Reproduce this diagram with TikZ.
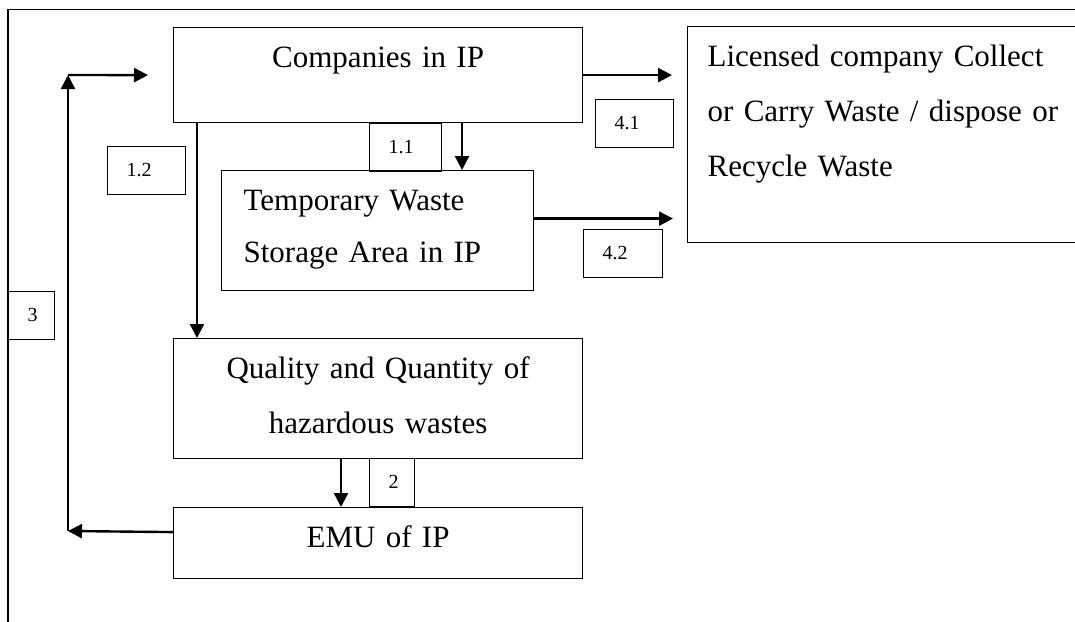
\documentclass[tikz,border=0pt]{standalone}
\usepackage{fontspec}
\setmainfont{Liberation Serif}
\usetikzlibrary{arrows.meta}

\begin{document}
\begin{tikzpicture}[x=1pt,y=-1pt,
    box/.style={draw, line width=1.2pt, anchor=north west, inner ysep=0pt,
        text height=40pt, font=\fontsize{31}{55}\selectfont},
    tag/.style={draw, line width=1.2pt, anchor=north west, inner xsep=19pt,
        inner ysep=0pt, text height=30pt, text depth=17.5pt, align=left,
        font=\fontsize{20}{24}\selectfont},
    arr/.style={line width=2.4pt, -{Triangle[length=14pt,width=14pt]}}
]

\useasboundingbox (0,0) rectangle (1075,621);
\clip (0,0) rectangle (1075,621);

% Outer frame
\draw[line width=1.2pt] (8,9.5) rectangle (1100,650);

% Boxes
\node[box, inner xsep=0pt, text width=409pt, align=center, text depth=55pt]
    (comp) at (173,27) {Companies in IP};
\node[box, inner xsep=22pt, text width=268pt, align=left, text depth=80pt,
    font=\fontsize{31}{52}\selectfont]
    (temp) at (221,170) {Temporary Waste\\Storage Area in IP};
\node[box, inner xsep=0pt, text width=409pt, align=center, text depth=80pt]
    (qual) at (173,338) {Quality and Quantity of\\hazardous wastes};
\node[box, inner xsep=0pt, text width=409pt, align=center, text depth=31pt]
    (emu) at (173,507) {EMU of IP};
\node[box, inner xsep=20pt, text width=380pt, align=left, text depth=176pt]
    (lic) at (687,26) {Licensed company Collect\\or Carry Waste / dispose or\\Recycle Waste};

% Step numbers
\node[tag, text width=40pt] (t12) at (107,146) {1.2};
\node[tag, text width=34pt] (t11) at (369,123) {1.1};
\node[tag, text width=40pt] (t41) at (595,99) {4.1};
\node[tag, text width=41pt] (t42) at (583,229) {4.2};
\node[tag, text width=8pt] (t3) at (8,291) {3};
\node[tag, text width=7pt] (t2) at (369,458) {2};

% Feedback loop corners
\coordinate (bl) at (68,531);
\coordinate (tl) at (68,75);

% Arrows
\draw[arr] (comp.east) -- ([xshift=-15pt]comp.east -| lic.west);
\draw[arr] ([yshift=12pt]temp.east) -- ([xshift=-14pt,yshift=12pt]temp.east -| lic.west);
\draw[arr] ([xshift=241pt]temp.north west |- comp.south) -- ([xshift=241pt]temp.north west);
\draw[arr] ([xshift=24pt]comp.south west) -- ([xshift=24pt]qual.north west);
\draw[arr] ([xshift=168pt]qual.south west) -- ([xshift=168pt]emu.north west);
\draw[arr] ([yshift=11pt]emu.west) -- (bl);
\draw[arr] (bl) -- (tl);
\draw[arr] (tl) -- ([xshift=-25pt]comp.west);

\end{tikzpicture}
\end{document}
